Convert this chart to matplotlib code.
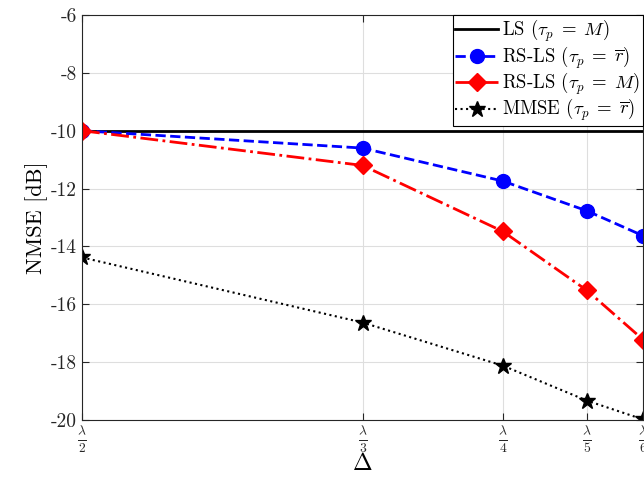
import matplotlib
matplotlib.use('Agg')
import matplotlib.pyplot as plt
import numpy as np

# spacing as fraction of wavelength
delta = [1/2, 1/3, 1/4, 1/5, 1/6]
delta_labels = [r'$\frac{\lambda}{2}$', r'$\frac{\lambda}{3}$', r'$\frac{\lambda}{4}$',
                r'$\frac{\lambda}{5}$', r'$\frac{\lambda}{6}$']

nmse_ls = [-10.0, -10.0, -10.0, -10.0, -10.0]
nmse_rsls_r = [-10.0, -10.6, -11.74, -12.77, -13.63]
nmse_rsls_m = [-10.0, -11.2, -13.48, -15.52, -17.22]
nmse_mmse = [-14.38, -16.63, -18.12, -19.33, -19.98]

yticks = [-20, -18, -16, -14, -12, -10, -8, -6]

plt.rcParams['font.family'] = 'serif'
plt.rcParams['font.serif'] = ['cmr10', 'DejaVu Serif']
plt.rcParams['mathtext.fontset'] = 'cm'
plt.rcParams['axes.unicode_minus'] = False

fig = plt.figure(figsize=(6.44, 4.78), dpi=100)
ax = fig.add_axes([82/644, 58/478, 561/644, 405/478])

ax.plot(delta, nmse_ls, '-', color='k', lw=2, label=r'LS $(\tau_p \;=\; M)$')
ax.plot(delta, nmse_rsls_r, '--', color='b', lw=2, marker='o', ms=10,
        label=r'RS-LS $(\tau_p \;=\; \overline{r})$')
ax.plot(delta, nmse_rsls_m, '-.', color='r', lw=2, marker='D', ms=9,
        label=r'RS-LS $(\tau_p \;=\; M)$')
ax.plot(delta, nmse_mmse, ':', color='k', lw=1.5, marker='*', ms=12,
        label=r'MMSE $(\tau_p \;=\; \overline{r})$')

ax.set_xlim(1/2, 1/6)
ax.set_ylim(-20, -6)
ax.set_xticks(delta)
ax.set_xticklabels(delta_labels, fontsize=14)
ax.set_yticks(yticks)
ax.set_yticklabels([str(v) for v in yticks], fontsize=14)
ax.tick_params(direction='in', top=True, right=True, length=5, colors='#262626')
for s in ax.spines.values():
    s.set_color('#262626')
    s.set_linewidth(0.8)
ax.grid(True, color='#dedede', lw=0.8)
ax.set_axisbelow(True)

ax.set_xlabel(r'$\Delta$', fontsize=17, labelpad=-2)
ax.set_ylabel('NMSE [dB]', fontsize=16, labelpad=2)

leg = ax.legend(loc='upper right', fontsize=13.5, fancybox=False, framealpha=1,
                edgecolor='k', borderaxespad=0, handlelength=2.3, handletextpad=0.2,
                borderpad=0.15, labelspacing=0.0)
leg.get_frame().set_linewidth(0.8)

fig.savefig('out.png', dpi=100)
